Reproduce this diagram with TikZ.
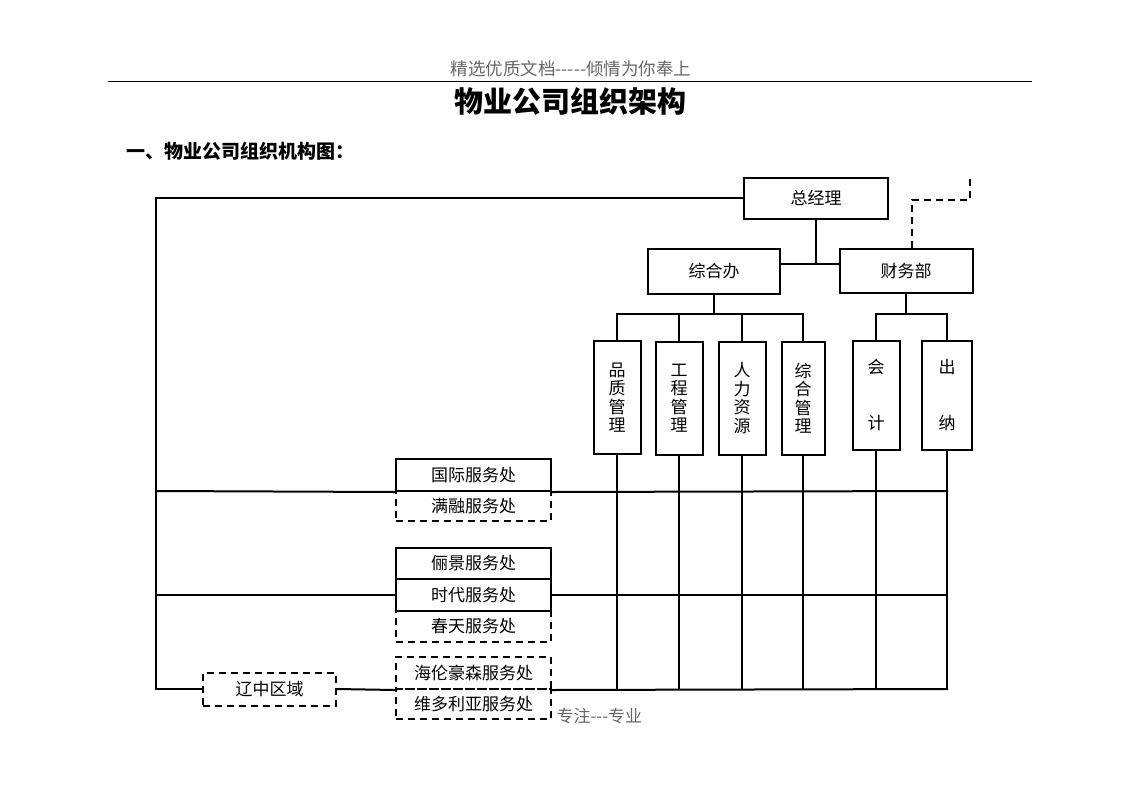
\documentclass[tikz,border=0pt]{standalone}
\usepackage{fontspec}
\setmainfont{Noto Sans CJK SC}
\tikzset{
    org box/.style={draw, line width=2pt, inner sep=0pt, minimum width=155pt, minimum height=31pt, font=\fontsize{17}{20}\selectfont}, % 实线框
    dash box/.style={org box, dash pattern=on 7pt off 5pt}, % 虚线框
    tall box/.style={org box, minimum width=47pt, minimum height=113pt, align=center, font=\fontsize{17}{18.5}\selectfont}, % 竖排文字框
    link/.style={line width=2pt} % 连线
}
\begin{document}
\begin{tikzpicture}[x=1pt, y=-1pt]
    \useasboundingbox (0,0) rectangle (1122,793);

    % 页眉与标题
    \node[text=black!60, font=\fontsize{17.5}{20}\selectfont] (hdr) at (571,69) {精选优质文档-{}-{}-{}-{}-倾情为你奉上};
    \draw[line width=1pt] (108,81) -- (1032,81);
    \node[font=\fontsize{29}{32}\selectfont\bfseries] (title) at (570,101) {物业公司组织架构};
    \node[anchor=west, font=\fontsize{19}{22}\selectfont\bfseries] (sub) at (123,151) {一、物业公司组织机构图：};
    \node[anchor=west, text=black!60, font=\fontsize{17}{20}\selectfont] (ftr) at (553,716) {专注-{}-{}-专业};

    % 上层
    \node[org box, minimum width=144pt, minimum height=41pt] (zjl) at (816,198) {总经理};
    \node[org box, minimum width=132pt, minimum height=45pt] (zhb) at (714,271.5) {综合办};
    \node[org box, minimum width=133pt, minimum height=44pt] (cwb) at (906,271) {财务部};
    \coordinate (jn) at (816,264);
    \draw[link] (zjl.south) -- (jn);
    \draw[link] (zhb.east |- jn) -- (cwb.west |- jn);
    \coordinate (ext) at (970,178);
    \coordinate (extc) at (912,200);
    \draw[link, dash pattern=on 7pt off 5pt] ([xshift=6pt]cwb.north) -- (extc) -| (ext);

    % 职能部门
    \node[tall box] (q1) at (617,397.5) {品\\质\\管\\理};
    \node[tall box] (q2) at (679,398) {工\\程\\管\\理};
    \node[tall box] (q3) at (742,398) {人\\力\\资\\源};
    \node[tall box, minimum width=43pt] (q4) at (803,398) {综\\合\\管\\理};
    \node[tall box, minimum height=109pt] (f1) at (876,395.5) {会\\[37.5pt]计};
    \node[tall box, minimum width=50pt, minimum height=109pt] (f2) at (947,395.5) {出\\[37.5pt]纳};
    \coordinate (zhbar) at (714,314);
    \draw[link] (zhb.south) -- (zhbar);
    \draw[link] (q1.north) |- (zhbar) -| (q4.north);
    \draw[link] (q2.north) -- (q2.north |- zhbar);
    \draw[link] (q3.north) -- (q3.north |- zhbar);
    \coordinate (cwbar) at (906,314);
    \draw[link] (cwb.south) -- (cwbar);
    \draw[link] (f1.north) |- (cwbar) -| (f2.north);

    % 服务处
    \node[org box, minimum height=32pt] (gj) at (473.5,475) {国际服务处};
    \node[dash box, minimum height=30pt] (mr) at (473.5,506) {满融服务处};
    \node[org box] (lj) at (473.5,563.5) {俪景服务处};
    \node[org box, minimum height=32pt] (sd) at (473.5,595) {时代服务处};
    \node[dash box] (ct) at (473.5,626.5) {春天服务处};
    \node[dash box, minimum height=32pt] (hl) at (473.5,673) {海伦豪森服务处};
    \node[dash box, minimum height=30pt] (wd) at (473.5,704) {维多利亚服务处};
    \node[dash box, minimum width=133pt, minimum height=33pt] (lz) at (269.5,689) {辽中区域};

    % 横线与竖线
    \coordinate (r1l) at (156,491);  \coordinate (r1r) at (948,491);
    \coordinate (r2l) at (156,595);  \coordinate (r2r) at (948,595);
    \coordinate (r3l) at (156,689);  \coordinate (r3r) at (948,689);
    \draw[link] (zjl.west) -| (r3l) -- (lz.west);
    \draw[link] (r1l) -- (gj.south west);
    \draw[link] (gj.south east) -- (r1r);
    \draw[link] (r2l) -- (sd.west);
    \draw[link] (sd.east) -- (r2r);
    \draw[link] (lz.east) -- (hl.south west);
    \draw[link] (hl.south east) -- (r3r);
    \foreach \n in {q1,q2,q3,q4,f1,f2} {\draw[link] (\n.south) -- (\n.south |- r3r);}
\end{tikzpicture}
\end{document}
